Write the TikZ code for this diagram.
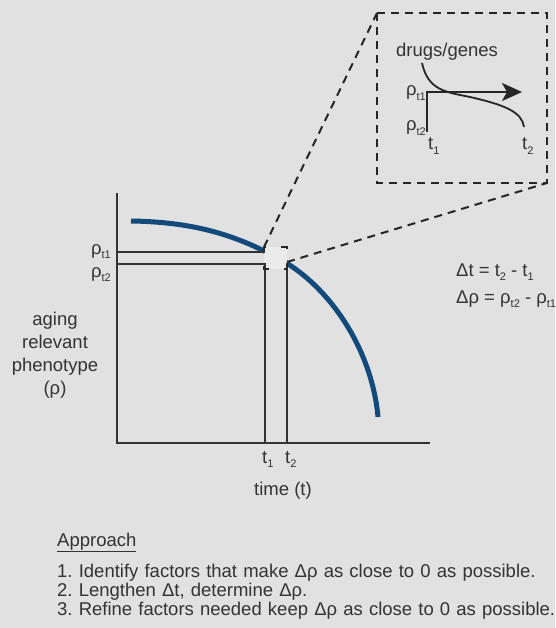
\documentclass[tikz,border=0pt]{standalone}
\usepackage{fontspec}
\setmainfont{Liberation Sans}
\usetikzlibrary{arrows.meta}
\definecolor{bg}{HTML}{E1E1E1}
\definecolor{ink}{HTML}{333333}
\definecolor{curveblue}{HTML}{134A7C}
\newcommand{\rhosub}[1]{ρ\raisebox{-0.45ex}{\fontsize{11}{11}\selectfont #1}}
\newcommand{\tsub}[1]{t\raisebox{-0.5ex}{\fontsize{11}{11}\selectfont #1}}
\begin{document}
\begin{tikzpicture}[x=1pt, y=-1pt, font=\fontsize{18.5}{22}\selectfont\frenchspacing, text=ink,
    axis/.style={ink, line width=2pt},
    guide/.style={ink, line width=1.5pt},
    zoomline/.style={black!85, line width=2pt, dash pattern=on 8pt off 6pt},
    lbl/.style={inner sep=0pt}]
    \fill[bg] (0,0) rectangle (555,628);
    \useasboundingbox (0,0) rectangle (555,628);

    % axes
    \coordinate (O) at (117,443);
    \coordinate (ytop) at (117,193);
    \coordinate (xend) at (430,443);
    \draw[axis] (ytop) -- (O) -- (xend);

    % phenotype curve
    \draw[curveblue, line width=5pt] (131,221) .. controls (200,222) and (240,238) .. (276,257)
        .. controls (330,285) and (372,350) .. (378,417);

    % zoomed spot
    \coordinate (sq1) at (264,247);
    \coordinate (sq2) at (287,269);
    \coordinate (sqr) at (287,262);
    \fill[bg!70!white] (sq1) rectangle (sq2);

    % rho / t guides
    \coordinate (r1) at (117,252);
    \coordinate (r2) at (117,264);
    \coordinate (c1) at (265,252);
    \coordinate (c2) at (265,264);
    \coordinate (c3) at (287,263);
    \draw[guide] (r1) -- (c1);
    \draw[guide] (r2) -- (c2) -- (c2 |- O);
    \draw[guide] (c3) -- (c3 |- O);
    \draw[black!85, line width=1.5pt, dash pattern=on 8pt off 15pt, dash phase=4pt] (sq1) rectangle (sq2);

    % inset box
    \coordinate (box1) at (377,13);
    \coordinate (box2) at (547,183);
    \draw[zoomline] (sq1) -- (box1);
    \draw[zoomline] (sqr) -- (box2);
    \draw[zoomline] (box1) rectangle (box2);

    \coordinate (i0) at (427,92);
    \coordinate (iy) at (427,132);
    \coordinate (ix) at (522,92);
    \draw[black!85, line width=2.5pt, -{Stealth[length=20pt, width=18pt, inset=5pt]}] (iy) -- (i0) -- (ix);
    \draw[black!85, line width=1.8pt] (422,63) .. controls (428,90) and (445,92) .. (470,97)
        .. controls (505,105) and (522,112) .. (524,127);

    \node[lbl, anchor=base] (drugs) at (447,57) {drugs/genes};
    \node[lbl, anchor=base east] (irho1) at (426,96) {\rhosub{t1}};
    \node[lbl, anchor=base east] (irho2) at (426,131) {\rhosub{t2}};
    \node[lbl, anchor=base west] (it1) at (428,150) {\tsub{1}};
    \node[lbl, anchor=base west] (it2) at (522,150) {\tsub{2}};

    % main labels
    \node[lbl, anchor=base east] (rho1) at (111,254) {\rhosub{t1}};
    \node[lbl, anchor=base east] (rho2) at (111,277) {\rhosub{t2}};
    \node[lbl, anchor=base west] (t1) at (262,463) {\tsub{1}};
    \node[lbl, anchor=base west] (t2) at (285,463) {\tsub{2}};
    \node[lbl, anchor=base] (xlabel) at (283,495) {time (t)};
    \node[lbl, align=center, font=\fontsize{18.5}{23}\selectfont] (ylabel) at (55,355)
        {aging\\relevant\\phenotype\\(ρ)};

    \node[lbl, anchor=base west] (dt) at (456,276) {Δt = \tsub{2} - \tsub{1}};
    \node[lbl, anchor=base west] (drho) at (456,303) {Δρ = \rhosub{t2} - \rhosub{t1}};

    % approach
    \node[lbl, anchor=base west] (appr) at (57,546) {\underline{Approach}};
    \node[lbl, anchor=base west, text width=540pt, align=left, font=\fontsize{18.5}{19}\selectfont\frenchspacing] (steps) at (57,577)
        {1. Identify factors that make Δρ as close to 0 as possible.\\
         2. Lengthen Δt, determine Δρ.\\
         3. Refine factors needed keep Δρ as close to 0 as possible.};
\end{tikzpicture}
\end{document}
